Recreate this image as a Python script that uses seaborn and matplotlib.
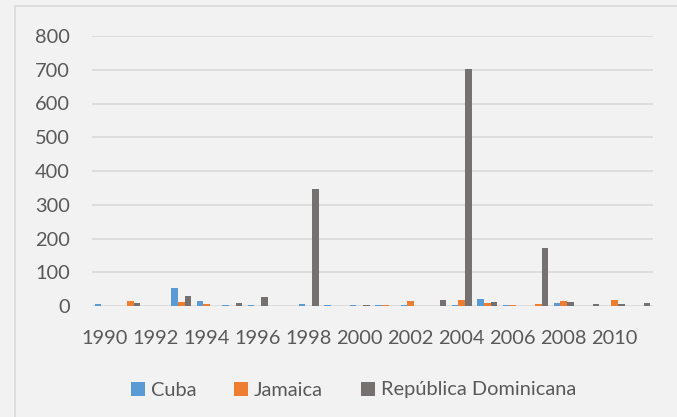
import matplotlib
matplotlib.use("Agg")
import matplotlib.pyplot as plt
from matplotlib.patches import Rectangle
import pandas as pd
import seaborn as sns

# Annual values per country, 1990-2011
years = [str(y) for y in range(1990, 2012)]
cuba = [5, 0, 0, 52, 15, 2, 3, 0, 6, 4, 2, 4, 3, 0, 4, 22, 3, 1, 9, 0, 0, 0]
jamaica = [0, 15, 0, 11, 5, 0, 0, 0, 0, 0, 0, 2, 14, 0, 17, 8, 2, 7, 15, 0, 17, 0]
rep_dom = [0, 9, 0, 30, 0, 10, 27, 0, 347, 0, 3, 1, 1, 17, 703, 11, 0, 173, 11, 5, 5, 9]
series_names = ["Cuba", "Jamaica", "República Dominicana"]
colors = ["#5B9BD5", "#ED7D31", "#767171"]
y_ticks = [0, 100, 200, 300, 400, 500, 600, 700, 800]
x_labels = [y if i % 2 == 0 else "" for i, y in enumerate(years)]

df = pd.DataFrame({
    "year": years * 3,
    "value": cuba + jamaica + rep_dom,
    "country": [series_names[0]] * len(years)
    + [series_names[1]] * len(years)
    + [series_names[2]] * len(years),
})

sns.set_theme(style="white")
plt.rcParams["font.family"] = ["Lato", "DejaVu Sans"]

bg = "#F2F2F2"
text_color = "#595959"
grid_color = "#D9D9D9"

fig = plt.figure(figsize=(6.77, 4.17), dpi=100, facecolor=bg)
ax = fig.add_axes([92 / 677, 1 - 306 / 417, (653 - 92) / 677, (306 - 36) / 417])
ax.set_facecolor(bg)

sns.barplot(data=df, x="year", y="value", hue="country", hue_order=series_names,
            palette=colors, width=0.8, saturation=1, ax=ax, legend=False,
            linewidth=0, errorbar=None)

ax.set_ylim(0, 800)
ax.set_yticks(y_ticks)
ax.set_xticks(range(len(years)))
ax.set_xticklabels(x_labels)
ax.yaxis.grid(True, color=grid_color, linewidth=1.2)
ax.set_axisbelow(True)
ax.tick_params(axis="both", length=0, labelsize=14.4, colors=text_color)
ax.tick_params(axis="y", pad=16)
ax.tick_params(axis="x", pad=17)
ax.set_xlabel("")
ax.set_ylabel("")
for s in ax.spines.values():
    s.set_visible(False)

handles = [Rectangle((0, 0), 1, 1, facecolor=c, edgecolor="none") for c in colors]
leg = fig.legend(handles, series_names, loc="center", bbox_to_anchor=(0.522, 1 - 390 / 417),
                 ncol=3, frameon=False, fontsize=14.4, handlelength=0.7, handleheight=0.7,
                 handletextpad=0.3, columnspacing=1.9)
for t in leg.get_texts():
    t.set_color(text_color)

# Chart area border
fig.add_artist(Rectangle((15 / 677, -0.1), 1.0, 1.1 - 6 / 417, transform=fig.transFigure,
                         fill=False, edgecolor=grid_color, linewidth=1.2))

fig.savefig("out.png", dpi=100, facecolor=bg)
